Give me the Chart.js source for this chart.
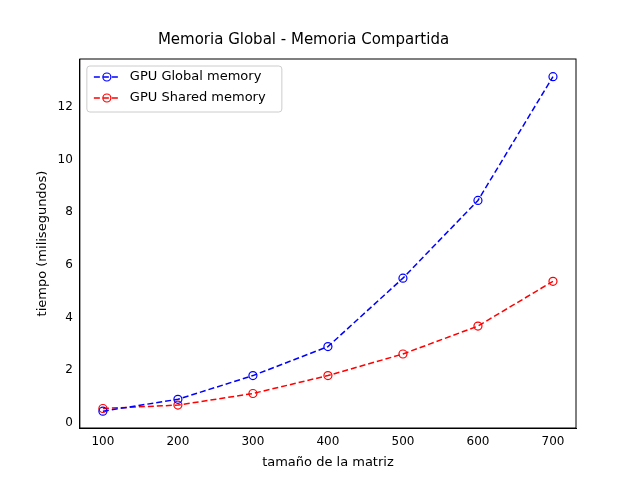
<!DOCTYPE html>
<html><head><script src="https://cdn.jsdelivr.net/npm/chart.js@4"></script>
<style>body{margin:0;background:#fff}#w{width:640px;height:480px}</style></head>
<body><div id="w"><canvas id="c"></canvas></div>
<script>
const sizes=[100,200,300,400,500,600,700];
const globalMem=[0.45,0.9,1.8,2.9,5.5,8.45,13.15];
const sharedMem=[0.55,0.68,1.12,1.8,2.62,3.68,5.38];
const yTicks=[0,2,4,6,8,10,12];
const F='DejaVu Sans';
const mk=(l,d,c)=>({label:l,data:sizes.map((x,i)=>({x,y:d[i]})),borderColor:c,backgroundColor:'rgba(0,0,0,0)',borderDash:[6,3],borderWidth:1.5,pointRadius:4,pointBorderColor:c,pointBorderWidth:1.2,pointBackgroundColor:'rgba(0,0,0,0)',tension:0});
const legendPlugin={id:'lg',afterDraw(ch){const c=ch.ctx,a=ch.chartArea;const x=a.left+7,y=a.top+7;c.save();c.fillStyle='rgba(255,255,255,0.8)';c.strokeStyle='#ccc';c.lineWidth=1;c.beginPath();c.roundRect(x,y,195,46,3);c.fill();c.stroke();
ch.data.datasets.forEach((d,i)=>{const yy=y+11+i*21;c.strokeStyle=d.borderColor;c.lineWidth=1.5;c.setLineDash([6,3]);c.beginPath();c.moveTo(x+7,yy);c.lineTo(x+33,yy);c.stroke();c.setLineDash([]);c.lineWidth=1.2;c.beginPath();c.arc(x+20,yy,4,0,7);c.stroke();c.fillStyle='#000';c.font='13px '+F;c.textBaseline='middle';c.fillText(d.label,x+43,yy);});c.restore();}};
new Chart(document.getElementById('c'),{type:'line',data:{datasets:[mk('GPU Global memory',globalMem,'#0000ff'),mk('GPU Shared memory',sharedMem,'#ff0000')]},
options:{responsive:true,maintainAspectRatio:false,animation:false,layout:{padding:{left:31,right:64,top:17,bottom:6}},
plugins:{legend:{display:false},tooltip:{enabled:false},title:{display:true,text:'Memoria Global - Memoria Compartida',color:'#000',font:{family:F,size:15,weight:'normal'},padding:{top:14,bottom:10}}},
scales:{x:{type:'linear',min:69.3,max:730.7,afterBuildTicks(s){s.ticks=sizes.map(v=>({value:v}))},grid:{display:false,drawTicks:true,tickLength:4,tickColor:'#000'},border:{color:'#000'},ticks:{color:'#000',font:{family:F,size:12},padding:3},title:{display:true,text:'tamaño de la matriz',color:'#000',font:{family:F,size:13},padding:{top:2}}},
y:{min:-0.19,max:13.82,afterBuildTicks(s){s.ticks=yTicks.map(v=>({value:v}))},grid:{display:false,drawTicks:true,tickLength:4,tickColor:'#000'},border:{color:'#000'},ticks:{color:'#000',font:{family:F,size:12},padding:3},title:{display:true,text:'tiempo (milisegundos)',color:'#000',font:{family:F,size:13},padding:{bottom:4}}}}},
plugins:[legendPlugin,{id:'frame',afterDraw(ch){const c=ch.ctx,a=ch.chartArea;c.save();c.strokeStyle='#000';c.lineWidth=1;c.strokeRect(a.left,a.top,a.right-a.left,a.bottom-a.top);c.restore();}}]});
</script></body></html>
